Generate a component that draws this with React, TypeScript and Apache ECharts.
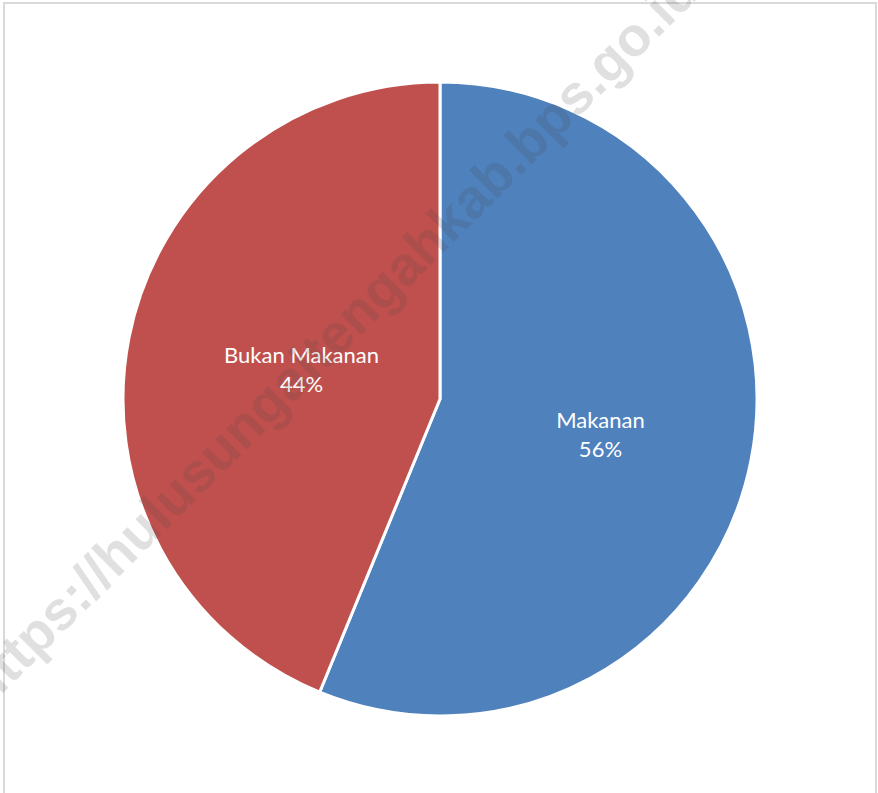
import React, { useEffect, useRef } from "react";
import * as echarts from "echarts";

const categories = ["Makanan", "Bukan Makanan"];
const values = [56.2, 43.8];
const colors = ["#4F81BD", "#C0504D"];
const watermark = "https://hulusungaitengahkab.bps.go.id";

export default function App() {
  const ref = useRef<HTMLDivElement>(null);
  useEffect(() => {
    if (!ref.current) return;
    const chart = echarts.init(ref.current, null, { renderer: "svg" });
    chart.setOption({
      animation: false,
      backgroundColor: "#ffffff",
      series: [
        {
          type: "pie",
          center: [440, 399],
          radius: [0, 317],
          startAngle: 90,
          clockwise: true,
          percentPrecision: 0,
          silent: true,
          itemStyle: { borderColor: "#ffffff", borderWidth: 3 },
          label: {
            show: true,
            position: "inside",
            formatter: "{b}\n{d}%",
            color: "#ffffff",
            fontFamily: "Lato",
            fontSize: 22,
            lineHeight: 29,
          },
          labelLayout: (p: any) =>
            p.dataIndex === 0 ? { dx: 2, dy: 4 } : { dx: 20, dy: 1 },
          labelLine: { show: false },
          data: categories.map((c, i) => ({
            name: c,
            value: values[i],
            itemStyle: { color: colors[i] },
          })),
        },
      ],
      graphic: [
        {
          type: "rect",
          shape: { x: 4, y: 3, width: 872, height: 900 },
          style: { fill: "none", stroke: "#D9D9D9", lineWidth: 2 },
          silent: true,
        },
        {
          type: "text",
          x: 331,
          y: 338,
          rotation: Math.PI / 4,
          z: 100,
          silent: true,
          style: {
            text: watermark,
            fontFamily: "Liberation Sans",
            fontWeight: "bold",
            fontSize: 55,
            fill: "rgba(70,70,70,0.17)",
            align: "center",
            verticalAlign: "middle",
          },
        },
      ],
    });
    return () => chart.dispose();
  }, []);
  return (
    <div
      ref={ref}
      style={{ position: "fixed", left: 0, top: 0, width: 878, height: 793 }}
    />
  );
}
